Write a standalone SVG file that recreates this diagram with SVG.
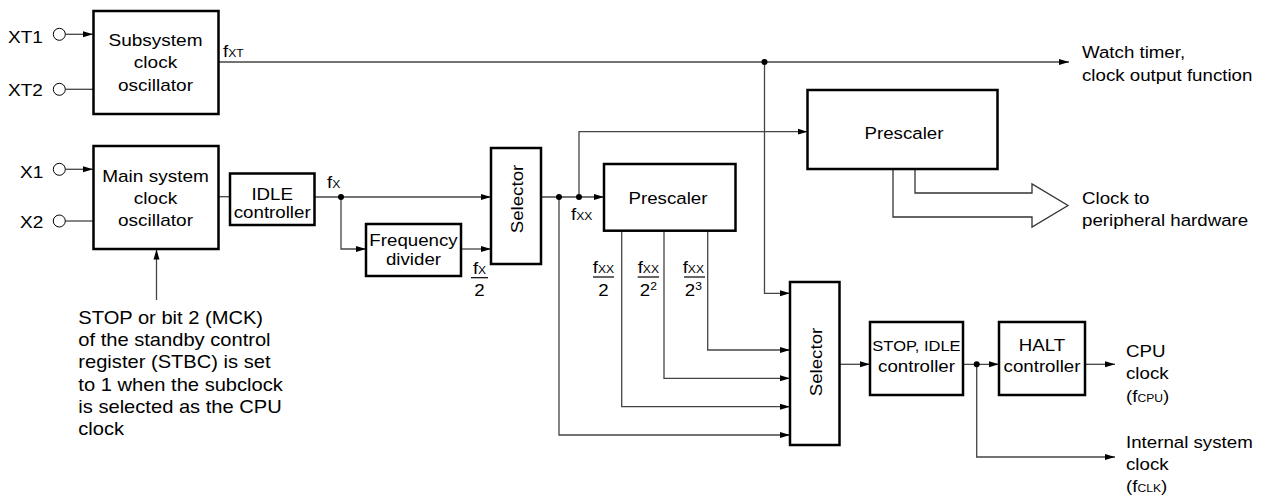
<svg xmlns="http://www.w3.org/2000/svg" width="1270" height="497" viewBox="0 0 1270 497">
<defs>
<style>
.box{fill:#fff;stroke:#000;stroke-width:2.5}
.ln{fill:none;stroke:#444;stroke-width:1.3}
.arr{marker-end:url(#ah)}
.term{fill:#fff;stroke:#000;stroke-width:1}
.dot{fill:#000}
.t{font-family:"Liberation Sans",Arial,Helvetica,sans-serif;font-size:17px;fill:#000}
.m{text-anchor:middle}
.s{font-size:11px}
.sm{font-size:15px}
.sup{font-size:11px}
.bar{stroke:#000;stroke-width:1.2}
</style>
<marker id="ah" markerWidth="10" markerHeight="7" refX="10" refY="3.5" orient="auto" markerUnits="userSpaceOnUse">
<path d="M0,0.5 L10,3.5 L0,6.5 z" fill="#000"/>
</marker>
</defs>
<rect width="1270" height="497" fill="#fff"/>

<g id="connectors">
<path class="ln arr" d="M65.5,34.3 H93"/>
<path class="ln" d="M65.5,89.3 H93"/>
<path class="ln arr" d="M65.5,169.3 H93"/>
<path class="ln" d="M65.5,221 H93"/>
<path class="ln arr" d="M218.5,62 H1069"/>
<path class="ln arr" d="M764.5,62 V293.3 H790"/>
<path class="ln arr" d="M156.5,300 V249.5"/>
<path class="ln" d="M218.5,196.7 H230"/>
<path class="ln arr" d="M314.5,197 H491"/>
<path class="ln arr" d="M341,197 V249 H366"/>
<path class="ln arr" d="M461,249 H491"/>
<path class="ln arr" d="M541,197 H604"/>
<path class="ln arr" d="M579,197 V131.7 H807.5"/>
<path class="ln arr" d="M559,197 V435 H790"/>
<path class="ln arr" d="M621.7,230.7 V406.7 H790"/>
<path class="ln arr" d="M664,230.7 V378.3 H790"/>
<path class="ln arr" d="M707.7,230.7 V350 H790"/>
<path class="ln arr" d="M839.5,364.3 H870"/>
<path class="ln arr" d="M963,364.3 H999"/>
<path class="ln arr" d="M1085,364.3 H1115"/>
<path class="ln arr" d="M976.7,364.3 V457 H1115"/>
<path class="ln" d="M915,169 V193 H1032 V184 L1068,205.5 L1032,227 V217 H893 V169" style="fill:#fff;stroke:#333"/>
<circle class="dot" cx="764.5" cy="62" r="3"/>
<circle class="dot" cx="341" cy="197" r="3"/>
<circle class="dot" cx="559" cy="197" r="3"/>
<circle class="dot" cx="579" cy="197" r="3"/>
<circle class="dot" cx="976.7" cy="364.3" r="3"/>
</g>

<g id="terminals">
<circle class="term" cx="59.3" cy="34.3" r="6"/>
<circle class="term" cx="59.3" cy="89.3" r="6"/>
<circle class="term" cx="59.3" cy="169.3" r="6"/>
<circle class="term" cx="59.3" cy="221" r="6"/>
<text class="t" transform="translate(8 43) scale(1.12 1)">XT1</text>
<text class="t" transform="translate(8 96) scale(1.12 1)">XT2</text>
<text class="t" transform="translate(20 178) scale(1.12 1)">X1</text>
<text class="t" transform="translate(20 228) scale(1.12 1)">X2</text>
</g>

<g id="subsystem-osc">
<rect class="box" x="93.5" y="11" width="125" height="103"/>
<text class="t m" transform="translate(155.5 45.7) scale(1.12 1)"><tspan x="0">Subsystem</tspan><tspan x="0" dy="22.5">clock</tspan><tspan x="0" dy="22.5">oscillator</tspan></text>
</g>

<g id="main-osc">
<rect class="box" x="93.5" y="146" width="125" height="103"/>
<text class="t m" transform="translate(155.5 182) scale(1.12 1)"><tspan x="0">Main system</tspan><tspan x="0" dy="22">clock</tspan><tspan x="0" dy="22">oscillator</tspan></text>
</g>

<g id="idle-ctrl">
<rect class="box" x="230" y="173.5" width="84.5" height="51.5"/>
<text class="t m" transform="translate(272.2 200) scale(1.1 1)"><tspan x="0">IDLE</tspan><tspan x="0" dy="18.5">controller</tspan></text>
</g>

<g id="freq-div">
<rect class="box" x="366" y="224" width="95" height="52"/>
<text class="t m" transform="translate(413.5 245.7) scale(1.1 1)"><tspan x="0">Frequency</tspan><tspan x="0" dy="19.3">divider</tspan></text>
</g>

<g id="selector1">
<rect class="box" x="491" y="148" width="50" height="116"/>
<text class="t m" transform="translate(522.5 199) rotate(-90) scale(1.1 1)">Selector</text>
</g>

<g id="prescaler-mid">
<rect class="box" x="604" y="164" width="131.5" height="66.7"/>
<text class="t m" transform="translate(668 204) scale(1.1 1)">Prescaler</text>
</g>

<g id="prescaler-top">
<rect class="box" x="807.5" y="90" width="190" height="79"/>
<text class="t m" transform="translate(904 139) scale(1.1 1)">Prescaler</text>
</g>

<g id="selector2">
<rect class="box" x="790" y="282" width="49.5" height="163"/>
<text class="t m" transform="translate(822 362) rotate(-90) scale(1.1 1)">Selector</text>
</g>

<g id="stop-idle-ctrl">
<rect class="box" x="870" y="322" width="93" height="73"/>
<text class="t m" transform="translate(916.5 351) scale(1.1 1)"><tspan x="0" class="sm">STOP, IDLE</tspan><tspan x="0" dy="20.7">controller</tspan></text>
</g>

<g id="halt-ctrl">
<rect class="box" x="999" y="322" width="86" height="73"/>
<text class="t m" transform="translate(1042 351) scale(1.1 1)"><tspan x="0">HALT</tspan><tspan x="0" dy="20.7">controller</tspan></text>
</g>

<g id="labels">
<text class="t" transform="translate(223 56.7) scale(1.1 1)">f<tspan class="s">XT</tspan></text>
<text class="t" transform="translate(327 188) scale(1.1 1)">f<tspan class="s">X</tspan></text>
<text class="t" transform="translate(571 220) scale(1.1 1)">f<tspan class="s">XX</tspan></text>

<text class="t m" transform="translate(479.5 274) scale(1.1 1)">f<tspan class="s">X</tspan></text>
<line class="bar" x1="471" y1="277.7" x2="488" y2="277.7"/>
<text class="t m" transform="translate(479.5 295.7) scale(1.1 1)">2</text>

<text class="t m" transform="translate(603.5 273.3) scale(1.1 1)">f<tspan class="s">XX</tspan></text>
<line class="bar" x1="593" y1="277" x2="614" y2="277"/>
<text class="t m" transform="translate(603.5 295.7) scale(1.1 1)">2</text>

<text class="t m" transform="translate(648.3 273.3) scale(1.1 1)">f<tspan class="s">XX</tspan></text>
<line class="bar" x1="637.7" y1="277" x2="659" y2="277"/>
<text class="t m" transform="translate(648.3 295.7) scale(1.1 1)">2<tspan class="sup" dy="-6">2</tspan></text>

<text class="t m" transform="translate(693.3 273.3) scale(1.1 1)">f<tspan class="s">XX</tspan></text>
<line class="bar" x1="684" y1="277" x2="705" y2="277"/>
<text class="t m" transform="translate(693.3 295.7) scale(1.1 1)">2<tspan class="sup" dy="-6">3</tspan></text>

<text class="t" transform="translate(1082 58) scale(1.1 1)"><tspan x="0">Watch timer,</tspan><tspan x="0" dy="23.5">clock output function</tspan></text>
<text class="t" transform="translate(1082 204) scale(1.1 1)"><tspan x="0">Clock to</tspan><tspan x="0" dy="22.5">peripheral hardware</tspan></text>
<text class="t" transform="translate(1126 356.7) scale(1.1 1)"><tspan x="0">CPU</tspan><tspan x="0" dy="22.5">clock</tspan><tspan x="0" dy="22.5">(f<tspan class="s">CPU</tspan>)</tspan></text>
<text class="t" transform="translate(1126 448.3) scale(1.1 1)"><tspan x="0">Internal system</tspan><tspan x="0" dy="21.7">clock</tspan><tspan x="0" dy="21.7">(f<tspan class="s">CLK</tspan>)</tspan></text>

<text class="t" transform="translate(78.3 324) scale(1.15 1)" style="font-size:17.5px"><tspan x="0">STOP or bit 2 (MCK)</tspan><tspan x="0" dy="22.2">of the standby control</tspan><tspan x="0" dy="22.2">register (STBC) is set</tspan><tspan x="0" dy="22.2">to 1 when the subclock</tspan><tspan x="0" dy="22.2">is selected as the CPU</tspan><tspan x="0" dy="22.2">clock</tspan></text>
</g>
</svg>
